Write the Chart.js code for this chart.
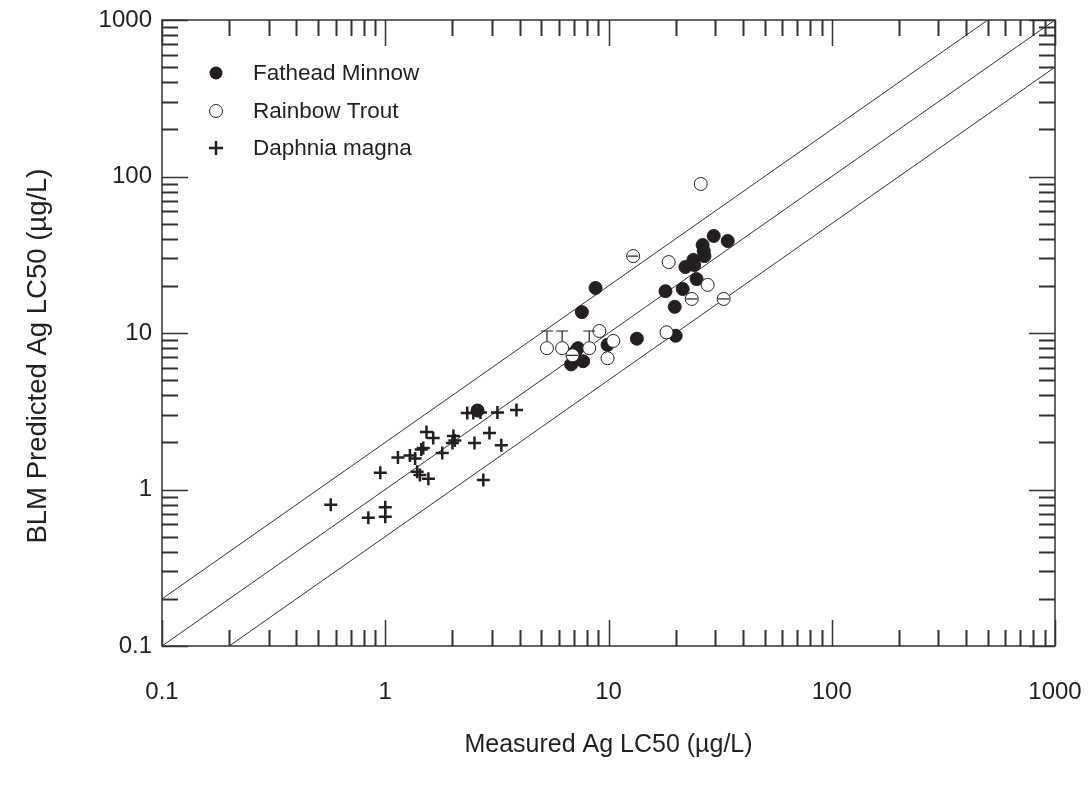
<!DOCTYPE html>
<html>
<head>
<meta charset="utf-8">
<script src="https://cdn.jsdelivr.net/npm/chart.js@4/dist/chart.umd.min.js"></script>
<style>
  body { margin: 0; background: #fff; }
  canvas { display: block; }
</style>
</head>
<body>
<canvas id="lc50Chart" width="1092" height="792"></canvas>
<script>
// measured vs predicted Ag LC50 (ug/L)
const fatheadX = [29.6, 34.2, 26.4, 26.7, 26.9, 24.0, 24.2, 22.1, 24.8, 18.0, 21.5, 19.8, 20.0, 13.4, 9.9, 8.75, 7.6, 7.3, 6.8, 7.7, 7.1, 2.59];
const fatheadY = [41.7, 38.7, 36.5, 33.4, 31.0, 29.3, 27.2, 26.4, 22.1, 18.5, 19.1, 14.7, 9.6, 9.2, 8.4, 19.4, 13.6, 8.0, 6.3, 6.6, 7.6, 3.2];

const troutX = [25.9, 12.9, 18.6, 27.8, 23.6, 32.8, 18.2, 9.1, 10.5, 9.9, 5.3, 6.2, 8.2, 6.9];
const troutY = [89.6, 31.0, 28.4, 20.3, 16.5, 16.5, 10.1, 10.3, 8.9, 6.9, 8.0, 8.0, 8.0, 7.2];
const troutYHigh = [null, null, null, null, null, null, null, null, null, null, 10.3, 10.3, 10.3, null];
const troutXLow = [null, 12.2, null, null, 22.3, 31.0, null, null, null, null, null, null, null, 6.5];
const troutXHigh = [null, 13.6, null, null, 25.0, 34.7, null, null, null, null, null, null, null, 7.3];

const daphniaX = [0.57, 0.84, 1.0, 1.0, 0.95, 1.14, 1.29, 1.36, 1.39, 1.43, 1.56, 1.53, 1.64, 1.48, 1.45, 1.8, 2.02, 2.0, 2.05, 2.33, 2.48, 2.59, 2.67, 3.18, 3.87, 2.51, 2.93, 3.31, 2.75];
const daphniaY = [0.80, 0.66, 0.77, 0.67, 1.28, 1.6, 1.65, 1.58, 1.3, 1.24, 1.17, 2.33, 2.13, 1.84, 1.8, 1.71, 2.2, 1.98, 2.06, 3.08, 3.08, 3.18, 3.1, 3.1, 3.22, 1.98, 2.3, 1.92, 1.15];

// reference lines: 1:1, 2:1 and 1:2
const lineOneToOne = [[0.1, 0.1], [1000, 1000]];
const lineTwoToOne = [[0.1, 0.2], [500, 1000]];
const lineOneToTwo = [[0.2, 0.1], [1000, 500]];

const decadeTicks = [0.1, 1, 10, 100, 1000];
const legendLabels = ['Fathead Minnow', 'Rainbow Trout', 'Daphnia magna'];

const FONT = 'Arial, "Liberation Sans", sans-serif';
const INK = '#231f20';

function toPoints(xs, ys) {
    return xs.map((x, i) => ({ x: x, y: ys[i] }));
}

// all 1..9 x 10^k tick positions between 0.1 and 1000
function minorTickValues() {
    const vals = [];
    for (let k = -1; k < 3; k++) {
        for (let m = 1; m < 10; m++) vals.push(m * Math.pow(10, k));
    }
    vals.push(1000);
    return vals;
}

const frameTicks = {
    id: 'frameTicks',
    afterDraw(chart) {
        const { ctx, chartArea: a, scales } = chart;
        ctx.save();
        ctx.strokeStyle = '#333';
        ctx.lineWidth = 1.5;
        ctx.strokeRect(a.left, a.top, a.right - a.left, a.bottom - a.top);
        minorTickValues().forEach(v => {
            const major = decadeTicks.includes(v);
            const len = major ? 26 : 16;
            ctx.lineWidth = major ? 1.5 : 2;
            const px = Math.round(scales.x.getPixelForValue(v)) + 0.5;
            const py = Math.round(scales.y.getPixelForValue(v)) + 0.5;
            ctx.beginPath();
            ctx.moveTo(px, a.bottom); ctx.lineTo(px, a.bottom - len);
            ctx.moveTo(px, a.top); ctx.lineTo(px, a.top + len);
            ctx.moveTo(a.left, py); ctx.lineTo(a.left + len, py);
            ctx.moveTo(a.right, py); ctx.lineTo(a.right - len, py);
            ctx.stroke();
        });
        ctx.restore();
    }
};

const troutErrorBars = {
    id: 'troutErrorBars',
    afterDatasetsDraw(chart) {
        const { ctx, scales } = chart;
        ctx.save();
        ctx.strokeStyle = INK;
        ctx.lineWidth = 1.2;
        troutX.forEach((x, i) => {
            const px = scales.x.getPixelForValue(x);
            const py = scales.y.getPixelForValue(troutY[i]);
            if (troutYHigh[i] !== null) {
                const top = scales.y.getPixelForValue(troutYHigh[i]);
                ctx.beginPath();
                ctx.moveTo(px, py - 7); ctx.lineTo(px, top);
                ctx.moveTo(px - 6, top); ctx.lineTo(px + 6, top);
                ctx.stroke();
            }
            if (troutXLow[i] !== null) {
                ctx.beginPath();
                ctx.moveTo(scales.x.getPixelForValue(troutXLow[i]), py);
                ctx.lineTo(scales.x.getPixelForValue(troutXHigh[i]), py);
                ctx.stroke();
            }
        });
        ctx.restore();
    }
};

const legendAndTitles = {
    id: 'legendAndTitles',
    afterDraw(chart) {
        const { ctx, chartArea: a } = chart;
        ctx.save();
        ctx.fillStyle = INK;
        ctx.strokeStyle = INK;
        // legend
        const mx = 216, tx = 253, rows = [73, 111, 148];
        ctx.beginPath(); ctx.arc(mx, rows[0], 6.5, 0, Math.PI * 2); ctx.fill();
        ctx.beginPath(); ctx.arc(mx, rows[1], 6.5, 0, Math.PI * 2);
        ctx.fillStyle = '#fff'; ctx.fill(); ctx.lineWidth = 1; ctx.stroke();
        ctx.lineWidth = 2.5;
        ctx.beginPath();
        ctx.moveTo(mx - 7, rows[2]); ctx.lineTo(mx + 7, rows[2]);
        ctx.moveTo(mx, rows[2] - 7); ctx.lineTo(mx, rows[2] + 7);
        ctx.stroke();
        ctx.fillStyle = INK;
        ctx.font = '22.5px ' + FONT;
        ctx.textAlign = 'left';
        ctx.textBaseline = 'middle';
        legendLabels.forEach((t, i) => ctx.fillText(t, tx, rows[i] + 1));
        // axis titles
        ctx.textAlign = 'center';
        ctx.font = '25px ' + FONT;
        ctx.fillText('Measured Ag LC50 (\u00b5g/L)', (a.left + a.right) / 2, 745);
        ctx.font = '27.5px ' + FONT;
        ctx.translate(38, 356);
        ctx.rotate(-Math.PI / 2);
        ctx.fillText('BLM Predicted Ag LC50 (\u00b5g/L)', 0, 0);
        ctx.restore();
    }
};

function logAxis(fit) {
    return {
        type: 'logarithmic',
        min: 0.1,
        max: 1000,
        grid: { display: false },
        border: { display: false },
        ticks: {
            color: INK,
            font: { family: FONT, size: 24 },
            padding: fit.padding,
            autoSkip: false,
            maxRotation: 0,
            callback: value => String(value),
        },
        afterBuildTicks: scale => {
            scale.ticks = decadeTicks.map(v => ({ value: v }));
        },
        afterFit: s => {
            // keep the plot frame fixed; labels may overflow into the margins
            s.paddingLeft = s.paddingRight = s.paddingTop = s.paddingBottom = 0;
            fit.afterFit(s);
        },
    };
}

const ctx = document.getElementById('lc50Chart').getContext('2d');
new Chart(ctx, {
    type: 'scatter',
    data: {
        datasets: [
            {
                label: 'Fathead Minnow',
                data: toPoints(fatheadX, fatheadY),
                pointStyle: 'circle',
                pointRadius: 6.5,
                backgroundColor: INK,
                borderColor: INK,
                borderWidth: 1,
                order: 2,
            },
            {
                label: 'Rainbow Trout',
                data: toPoints(troutX, troutY),
                pointStyle: 'circle',
                pointRadius: 6.5,
                backgroundColor: '#fff',
                borderColor: INK,
                borderWidth: 1,
                order: 0,
            },
            {
                label: 'Daphnia magna',
                data: toPoints(daphniaX, daphniaY),
                pointStyle: 'cross',
                pointRadius: 6.5,
                borderColor: INK,
                borderWidth: 2.5,
                order: 1,
            },
            ...[lineOneToOne, lineTwoToOne, lineOneToTwo].map((pts, i) => ({
                label: 'ref' + i,
                type: 'line',
                data: pts.map(p => ({ x: p[0], y: p[1] })),
                borderColor: '#333',
                borderWidth: 1,
                pointRadius: 0,
                fill: false,
                order: 10,
            })),
        ],
    },
    options: {
        responsive: false,
        animation: false,
        layout: { padding: { top: 20, right: 37, left: 0, bottom: 0 } },
        scales: {
            x: logAxis({ padding: 24, afterFit: s => { s.height = 146; } }),
            y: logAxis({ padding: 2, afterFit: s => { s.width = 162; } }),
        },
        plugins: {
            legend: { display: false },
            tooltip: { enabled: false },
        },
    },
    plugins: [frameTicks, troutErrorBars, legendAndTitles],
});
</script>
</body>
</html>
